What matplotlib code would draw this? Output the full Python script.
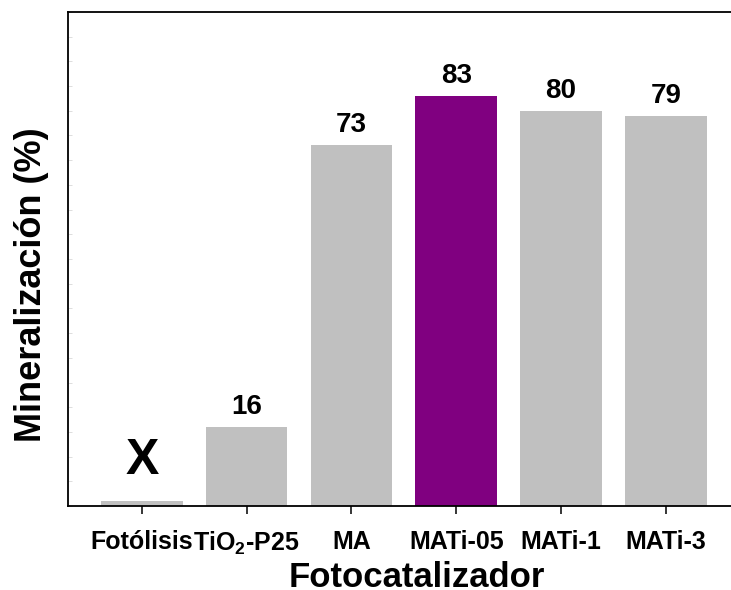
import matplotlib
matplotlib.use("Agg")
import matplotlib.pyplot as plt
from matplotlib.ticker import MultipleLocator

matplotlib.rcParams["font.family"] = "Liberation Sans"
matplotlib.rcParams["font.weight"] = "bold"
matplotlib.rcParams["mathtext.fontset"] = "custom"
matplotlib.rcParams["mathtext.rm"] = "Liberation Sans:bold"
matplotlib.rcParams["mathtext.bf"] = "Liberation Sans:bold"
matplotlib.rcParams["mathtext.it"] = "Liberation Sans:bold"

# ── Data ─────────────────────────────────────────────────────────────
categories = ["Fotólisis", "TiO$_2$-P25", "MA", "MATi-05", "MATi-1", "MATi-3"]
mineralization = [1, 16, 73, 83, 80, 79]
value_labels = ["X", "16", "73", "83", "80", "79"]
bar_colors = ["#C0C0C0", "#C0C0C0", "#C0C0C0", "#800080", "#C0C0C0", "#C0C0C0"]

fig = plt.figure(figsize=(7.31, 5.90), dpi=100)
ax = fig.add_axes([68 / 731, 84 / 590, 663 / 731, 494 / 590])

x = list(range(len(categories)))
ax.bar(x, mineralization, width=0.78, color=bar_colors, edgecolor="none")

for xi, val, lab in zip(x, mineralization, value_labels):
    if lab == "X":
        ax.annotate(lab, (xi, val), xytext=(0, 12), textcoords="offset points",
                    ha="center", va="bottom", fontsize=36, fontweight="bold")
    else:
        ax.annotate(lab, (xi, val), xytext=(0, 5), textcoords="offset points",
                    ha="center", va="bottom", fontsize=20, fontweight="bold")

ax.set_xlim(-0.704, 5.622)
ax.set_ylim(0, 100)

ax.set_xticks(x)
ax.set_xticklabels(categories, fontsize=18, fontweight="bold")
ax.tick_params(axis="x", direction="out", length=6, width=1.1, pad=11)

ax.yaxis.set_major_locator(MultipleLocator(5))
ax.tick_params(axis="y", direction="in", length=3, width=0.5, color="#d0d0d0",
               labelleft=False)

for side in ["left", "bottom", "top"]:
    ax.spines[side].set_linewidth(1.3)
ax.spines["right"].set_visible(False)

ax.set_xlabel("Fotocatalizador", fontsize=25, fontweight="bold")
ax.xaxis.set_label_coords(0.526, -0.112)
ax.set_ylabel("Mineralización (%)", fontsize=26, fontweight="bold")
ax.yaxis.set_label_coords(-0.028, 0.449)

fig.savefig("out.png", dpi=100)
plt.close(fig)
